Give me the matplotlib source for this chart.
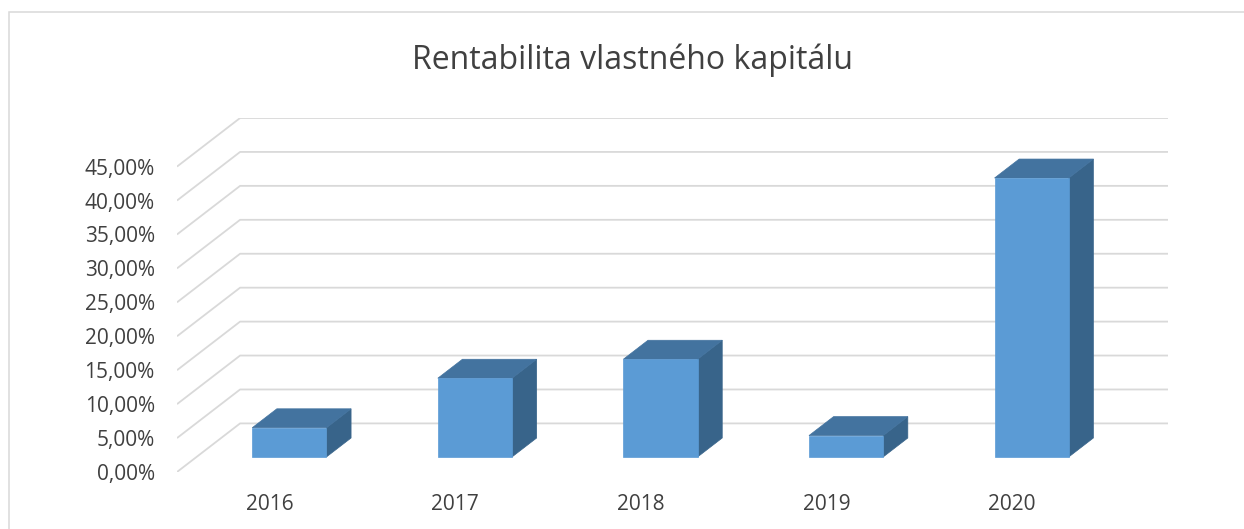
import numpy as np
import matplotlib
matplotlib.use("Agg")
import matplotlib.pyplot as plt
from matplotlib.patches import Polygon, Rectangle

plt.rcParams['font.family'] = ['Open Sans', 'DejaVu Sans']

# data
years = ["2016", "2017", "2018", "2019", "2020"]
roe = [4.3, 11.6, 14.4, 3.15, 41.1]   # percent
yticks = np.arange(0, 50, 5)

# oblique projection of the depth axis (in data units)
DX = 0.34
DY = 7.16
d0, d1 = 0.31, 0.70
bw = 0.4

front_c = "#5B9BD5"
top_c = "#43739F"
side_c = "#38648A"
grid_c = "#D9D9D9"
txt_c = "#404040"

W, H = 1244, 529
fig = plt.figure(figsize=(W/100, H/100), dpi=100)
fig.patches.append(Rectangle((9/W, -0.1), 1.2, 1.1 - 12.5/H, transform=fig.transFigure,
                             fill=False, edgecolor=grid_c, lw=1.1, zorder=0))

ax = fig.add_axes([177/W, (H-472)/H, (1168-177)/W, (472-118)/H])
ax.set_xlim(0, len(years) + DX)
ax.set_ylim(0, 45 + DY)
for s in ax.spines.values():
    s.set_visible(False)
ax.patch.set_alpha(0)

def proj(x, z, d):
    return (x + d*DX, z + d*DY)

# gridlines on side + back wall
for v in yticks:
    ax.plot([0, DX, len(years) + DX], [v, v + DY, v + DY], color=grid_c, lw=1.3,
            zorder=1, solid_capstyle='butt')

# bars
for i, v in enumerate(roe):
    c = i + 0.5
    xl, xr = c - bw/2, c + bw/2
    front = [proj(xl, 0, d0), proj(xr, 0, d0), proj(xr, v, d0), proj(xl, v, d0)]
    top = [proj(xl, v, d0), proj(xr, v, d0), proj(xr, v, d1), proj(xl, v, d1)]
    side = [proj(xr, 0, d0), proj(xr, 0, d1), proj(xr, v, d1), proj(xr, v, d0)]
    ax.add_patch(Polygon(side, closed=True, facecolor=side_c, edgecolor=side_c, lw=0.5, zorder=3))
    ax.add_patch(Polygon(top, closed=True, facecolor=top_c, edgecolor=top_c, lw=0.5, zorder=3))
    ax.add_patch(Polygon(front, closed=True, facecolor=front_c, edgecolor=front_c, lw=0.5, zorder=4))

ax.set_yticks(yticks)
ax.set_yticklabels([("%.2f%%" % v).replace(".", ",") for v in yticks])
ax.set_xticks(np.arange(len(years)) + 0.5)
ax.set_xticklabels(years)
ax.tick_params(axis='y', length=0, pad=16, labelsize=15, labelcolor=txt_c)
ax.tick_params(axis='x', length=0, pad=16, labelsize=15, labelcolor=txt_c)

fig.text(633/W, 1 - 69/H, "Rentabilita vlastného kapitálu", ha='center', va='baseline',
         fontsize=23, color=txt_c)

fig.savefig("out.png", dpi=100)
